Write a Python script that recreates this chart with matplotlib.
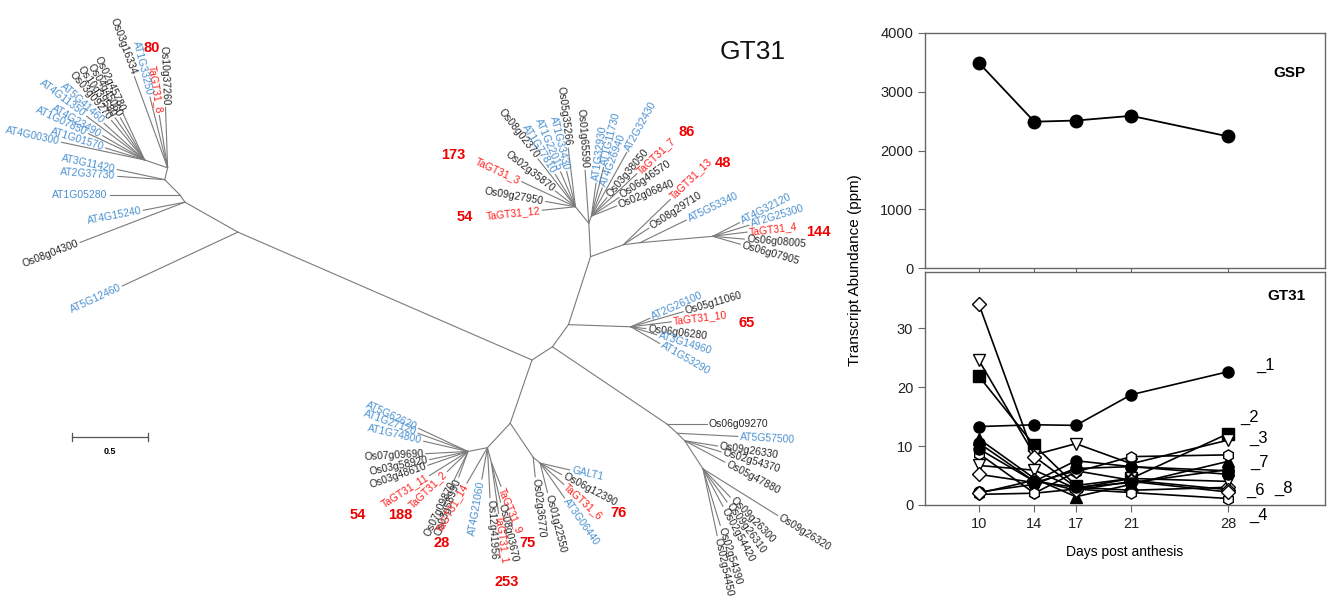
import numpy as np
import matplotlib
matplotlib.use('Agg')
import matplotlib.pyplot as plt

plt.rcParams['font.family'] = ['Liberation Sans', 'DejaVu Sans']

# ---- expression data (right panels) ----
days = [10, 14, 17, 21, 28]
gsp = [3490, 2490, 2510, 2590, 2240]

gt31_markers = ['o', 's', 'v', 'D', '^', 'o', 'h', 'v', 'D', 'o', 'h', 'D', 'o']
gt31_filled = [True, True, False, False, True, True, False, False, False, True, False, False, True]
gt31_values = [
    [13.3, 13.6, 13.5, 18.7, 22.6],
    [21.8, 10.1, 3.3, 4.5, 12.1],
    [24.5, 8.5, 10.4, 7.0, 11.0],
    [34.0, 8.2, 3.0, 2.5, 3.0],
    [11.2, 4.5, 1.4, 3.5, 7.4],
    [10.5, 4.0, 7.5, 6.5, 5.8],
    [8.7, 2.0, 5.6, 8.2, 8.5],
    [6.7, 5.9, 2.8, 4.5, 4.0],
    [5.2, 3.8, 5.8, 4.2, 2.6],
    [2.2, 3.5, 6.2, 6.5, 5.2],
    [1.8, 2.0, 2.7, 2.1, 1.1],
    [2.0, 4.2, 2.5, 4.0, 2.2],
    [9.5, 4.0, 3.0, 3.8, 6.0],
]
end_labels = ['_1', '_2', '_3', '_7', '_6', '_8', '_4']
end_label_x = [30.0, 28.9, 29.5, 29.6, 29.3, 31.3, 29.5]
end_label_y = [22.9, 14.1, 10.5, 6.4, 1.7, 2.0, -2.5]

# ---- phylogenetic tree: (angle in degrees, branch length, child) ----
F = [(115, 0.34, ('Os02g45780', 'os')), (120, 0.32, ('Os04g45060', 'os')),
     (125, 0.34, ('Os10g39580', 'os')), (130, 0.34, ('Os03g09270', 'os')),
     (138, 0.36, ('AT5G41460', 'at')), (143, 0.48, ('AT4G11350', 'at')),
     (150, 0.32, ('AT4G23490', 'at')), (155, 0.41, ('AT1G07850', 'at')),
     (163, 0.27, ('AT1G01570', 'at')), (168, 0.56, ('AT4G00300', 'at'))]
E = [(92, 0.40, ('Os10g37260', 'os')), (99, 0.35, ('TaGT31_8', 'ta')),
     (104, 0.48, ('AT1G33250', 'at')), (110, 0.64, ('Os03g16334', 'os')),
     (161, 0.16, F)]
D = [(176, 0.31, ('AT2G37730', 'at')), (168, 0.32, ('AT3G11420', 'at')), (76, 0.08, E)]
C = [(180, 0.46, ('AT1G05280', 'at')), (135, 0.14, D)]
B = [(191, 0.28, ('AT4G15240', 'at')), (201, 0.74, ('Os08g04300', 'os')), (125, 0.06, C)]
A = [(205, 0.84, ('AT5G12460', 'at')), (150.5, 0.40, B)]

JL = [(186, 0.22, ('TaGT31_12', 'ta')), (170, 0.20, ('Os09g27950', 'os')),
      (142, 0.17, ('Os02g35870', 'os')), (155, 0.39, ('TaGT31_3', 'ta')),
      (128, 0.40, ('Os08g02370', 'os')), (122, 0.25, ('AT1G77810', 'at')),
      (113, 0.25, ('AT1G22015', 'at')), (104, 0.24, ('AT1G33430', 'at')),
      (97, 0.39, ('Os05g35266', 'os'))]
JR = [(82, 0.22, ('AT1G32930', 'at')), (76, 0.33, ('AT1G11730', 'at')),
      (69, 0.20, ('AT4G26940', 'at')), (61, 0.48, ('AT2G32430', 'at')),
      (50, 0.16, ('Os03g38050', 'os')), (43, 0.41, ('TaGT31_7', 'ta')),
      (34, 0.22, ('Os06g46570', 'os')), (22, 0.18, ('Os02g06840', 'os'))]
J = [(129, 0.14, JL), (70, 0.05, JR), (94, 0.35, ('Os01g65590', 'os'))]
L = [(27, 0.20, ('AT4G32120', 'at')), (17, 0.25, ('AT2G25300', 'at')),
     (7, 0.23, ('TaGT31_4', 'ta')), (-5, 0.21, ('Os06g08005', 'os')),
     (-16, 0.19, ('Os06g07905', 'os'))]
K2 = [(26, 0.34, ('AT5G53340', 'at')), (5, 0.48, L)]
K = [(44, 0.43, ('TaGT31_13', 'ta')), (33, 0.20, ('Os08g29710', 'os')), (7, 0.11, K2)]
I = [(93, 0.22, J), (20, 0.23, K)]
M = [(24, 0.14, ('AT2G26100', 'at')), (16, 0.36, ('Os05g11060', 'os')),
     (7, 0.27, ('TaGT31_10', 'ta')), (-7, 0.10, ('Os06g06280', 'os')),
     (-17, 0.18, ('AT3G14960', 'at')), (-30, 0.22, ('AT1G53290', 'at'))]
H = [(72, 0.47, I), (-2, 0.41, M)]
N4 = [(-32, 0.58, ('Os09g26320', 'os')), (-46, 0.26, ('Os09g26300', 'os')),
      (-54, 0.27, ('Os09g26310', 'os')), (-62, 0.28, ('Os02g54420', 'os')),
      (-73, 0.39, ('Os02g54390', 'os')), (-78, 0.45, ('Os02g54450', 'os'))]
N3 = [(-9, 0.22, ('Os09g26330', 'os')), (-17, 0.25, ('Os02g54370', 'os')),
      (-28, 0.30, ('Os05g47880', 'os')), (-57, 0.22, N4)]
N2 = [(-3, 0.40, ('AT5G57500', 'at')), (-45, 0.07, N3)]
N = [(0, 0.26, ('Os06g09270', 'os')), (-42, 0.09, N2)]
G = [(54, 0.18, H), (-34, 0.91, N)]
Q = [(-13, 0.20, ('GALT1', 'at')), (-28, 0.16, ('Os06g12390', 'os')),
     (-42, 0.21, ('TaGT31_6', 'ta')), (-55, 0.28, ('AT3G06440', 'at')),
     (-76, 0.20, ('Os01g22550', 'os'))]
P = [(-84, 0.13, ('Os02g36770', 'os')), (-40, 0.06, Q)]
V = [(155, 0.36, ('AT5G62620', 'at')), (160, 0.35, ('AT1G27120', 'at')),
     (167, 0.30, ('AT1G74800', 'at')), (183, 0.28, ('Os07g09690', 'os')),
     (192, 0.26, ('Os03g58920', 'os')), (199, 0.28, ('Os03g48610', 'os')),
     (212, 0.30, ('TaGT31_11', 'ta')), (224, 0.19, ('TaGT31_2', 'ta')),
     (244, 0.21, ('Os07g09870', 'os')), (250, 0.18, ('Os03g58990', 'os'))]
U = [(-68, 0.17, ('TaGT31_9', 'ta')), (-77, 0.27, ('Os08g03670', 'os')),
     (-82, 0.34, ('TaGT31_1', 'ta'))]
S = [(191, 0.13, V), (260, 0.21, ('AT4G21060', 'at')), (240, 0.27, ('TaGT31_14', 'ta')),
     (-87, 0.33, ('Os12g41956', 'os')), (-75, 0.10, U)]
O = [(-56, 0.27, P), (-133, 0.22, S)]
tree = [(156.5, 2.11, A), (33, 0.16, G), (-109, 0.44, O)]

# wheat gene counts shown next to the clades
counts = ['80', '173', '54', '86', '48', '144', '65', '76', '54', '188', '28', '75', '253']
count_x = [152, 453, 465, 687, 723, 818, 747, 618, 358, 400, 442, 527, 507]
count_y = [48, 155, 217, 132, 163, 232, 323, 513, 515, 515, 543, 543, 582]

colors = {'os': '#262626', 'at': '#4a90d0', 'ta': '#ff1e1e'}
SCALE = 152.0  # pixels per unit branch length

fig = plt.figure(figsize=(13.33, 5.99), dpi=100)

# ---- tree panel ----
tax = fig.add_axes([0, 0, 830 / 1333, 1])
tax.set_xlim(0, 830)
tax.set_ylim(599, 0)
tax.axis('off')


def draw(node, x, y):
    for ang, ln, child in node:
        a = np.radians(ang)
        x2 = x + ln * SCALE * np.cos(a)
        y2 = y - ln * SCALE * np.sin(a)
        tax.plot([x, x2], [y, y2], color='#7a7a7a', lw=0.8, solid_capstyle='round')
        if isinstance(child, list):
            draw(child, x2, y2)
        else:
            name, kind = child
            tx = x2 + 2 * np.cos(a)
            ty = y2 - 2 * np.sin(a)
            na = (ang + 180) % 360 - 180
            if -90 < na <= 90:
                tax.text(tx, ty, name, rotation=na, rotation_mode='anchor',
                         ha='left', va='center', fontsize=7.5, color=colors[kind])
            else:
                tax.text(tx, ty, name, rotation=na - 180 if na > 0 else na + 180,
                         rotation_mode='anchor', ha='right', va='center',
                         fontsize=7.5, color=colors[kind])


draw(tree, 532, 360)

for c, cx, cy in zip(counts, count_x, count_y):
    tax.text(cx, cy, c, color='#ee0000', fontsize=10.5, fontweight='bold',
             ha='center', va='center')

tax.text(753, 52, 'GT31', fontsize=19, ha='center', va='center', color='#111111')

# scale bar
tax.plot([72, 148], [437, 437], color='#555555', lw=0.9)
tax.plot([72, 72], [433, 441], color='#555555', lw=0.9)
tax.plot([148, 148], [433, 441], color='#555555', lw=0.9)
tax.text(110, 451, '0.5', fontsize=6.5, fontweight='bold', ha='center', va='center')

# ---- expression panels ----
ax1 = fig.add_axes([925 / 1333, 1 - 268 / 599, 400 / 1333, 235 / 599])
ax2 = fig.add_axes([925 / 1333, 1 - 505 / 599, 400 / 1333, 233 / 599])

for ax in (ax1, ax2):
    ax.set_xlim(6.1, 35)
    ax.set_xticks(days)
    for sp in ax.spines.values():
        sp.set_color('#666666')
        sp.set_linewidth(1.0)
    ax.tick_params(direction='out', color='#666666', length=5, labelsize=10.5,
                   labelcolor='#222222')

ax1.plot(days, gsp, color='black', lw=1.3, marker='o', ms=9, mfc='black', mec='black')
ax1.set_ylim(0, 4000)
ax1.set_yticks([0, 1000, 2000, 3000, 4000])
ax1.tick_params(axis='x', labelbottom=False)
ax1.text(0.95, 0.83, 'GSP', transform=ax1.transAxes, fontsize=11, fontweight='bold',
         ha='right', va='center')

for mk, filled, vals in zip(gt31_markers, gt31_filled, gt31_values):
    ax2.plot(days, vals, color='black', lw=1.2, marker=mk, ms=8 if mk != 'D' else 7,
             mfc='black' if filled else 'white', mec='black', mew=1.0)
ax2.set_ylim(0, 39.5)
ax2.set_yticks([0, 10, 20, 30])
ax2.text(0.95, 0.895, 'GT31', transform=ax2.transAxes, fontsize=11, fontweight='bold',
         ha='right', va='center')
for t, lx, ly in zip(end_labels, end_label_x, end_label_y):
    ax2.text(lx, ly, t, fontsize=12, ha='left', va='baseline', clip_on=False)
ax2.set_xlabel('Days post anthesis', fontsize=10, labelpad=10)

fig.text(855 / 1333, 1 - 270 / 599, 'Transcript Abundance (ppm)', rotation=90,
         fontsize=11, ha='center', va='center')

fig.savefig('out.png', dpi=100)
